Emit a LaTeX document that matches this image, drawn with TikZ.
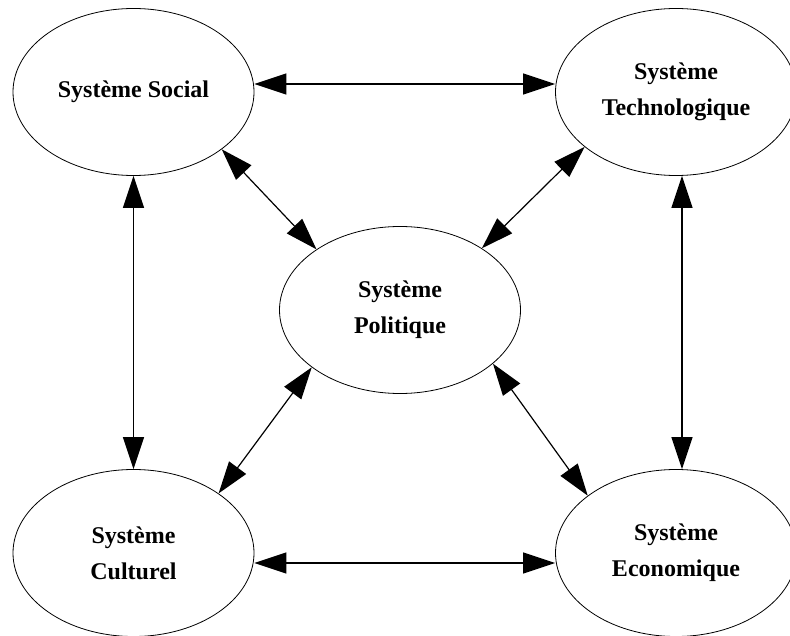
\documentclass[tikz,border=0pt]{standalone}
\usepackage{fontspec}
\setmainfont{Liberation Serif}
\usetikzlibrary{arrows.meta,shapes.geometric}

\tikzset{
  systeme/.style={ellipse,draw,line width=0.8pt,minimum width=241pt,minimum height=167pt,
    inner sep=0pt,align=center,font=\bfseries\fontsize{24}{36}\selectfont}
}

\begin{document}
\begin{tikzpicture}[<->,>={Triangle[length=32pt,width=21pt]},line width=1.2pt,x=1pt,y=1pt]

  \useasboundingbox (0,0) rectangle (790,-636);

  \node[systeme] (soc)  at (133.5,-92)  {Système Social};
  \node[systeme] (tech) at (676,-92)    {Système\\Technologique};
  \node[systeme] (pol)  at (400,-310)   {Système\\Politique};
  \node[systeme] (cul)  at (133.5,-553) {Système\\Culturel};
  \node[systeme] (eco)  at (676,-553)   {Système\\Economique};

  \path ([yshift=8pt]soc.east)    edge ([yshift=8pt]tech.west)
        ([yshift=-10pt]cul.east)  edge ([yshift=-10pt]eco.west)
        (soc.south)               edge (cul.north)
        ([xshift=6pt]tech.south)  edge ([xshift=6pt]eco.north)
        (soc.-33.5)               edge (pol.144.8)
        (tech.-149)               edge (pol.37.2)
        (pol.-147)                edge (cul.35.6)
        (pol.-30.6)               edge (eco.147.2);

\end{tikzpicture}
\end{document}
